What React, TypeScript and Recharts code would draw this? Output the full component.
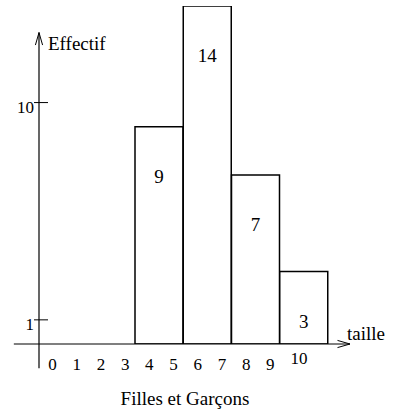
import { BarChart, Bar, XAxis, YAxis, ReferenceLine, LabelList } from "recharts";

const classes = ["[3;5[", "[5;7[", "[7;9[", "[9;10]"];
const bornesInf = [3, 5, 7, 9];
const effectifs = [9, 14, 7, 3];
const tailleTicks = [0, 1, 2, 3, 4, 5, 6, 7, 8, 9, 10];
const effectifTicks = [1, 10];

const data = classes.map((c, i) => ({
  classe: c,
  borneInf: bornesInf[i],
  effectif: effectifs[i],
}));

const FONT = "'Liberation Serif', 'DejaVu Serif', serif";
// numeric axis used only for the 0..10 tick labels
const tailleDomain: [number, number] = [-0.56, 12.29];

function ArrowLine(props: any) {
  const { x1, y1, x2, y2 } = props;
  const a = Math.atan2(y2 - y1, x2 - x1);
  const len = 13;
  const spread = 0.28;
  const ax = x2 - len * Math.cos(a - spread);
  const ay = y2 - len * Math.sin(a - spread);
  const bx = x2 - len * Math.cos(a + spread);
  const by = y2 - len * Math.sin(a + spread);
  return (
    <g>
      <line x1={x1} y1={y1} x2={x2} y2={y2} stroke="#000" strokeWidth={1.2} />
      <polyline
        points={`${ax},${ay} ${x2},${y2} ${bx},${by}`}
        fill="none"
        stroke="#000"
        strokeWidth={1}
      />
    </g>
  );
}

function XTick({ x, y, payload }: any) {
  const last = payload.value === 10;
  return (
    <text
      x={x + (last ? 4.5 : 0)}
      y={y + (last ? -18.5 : -12.5)}
      textAnchor="middle"
      fontFamily={FONT}
      fontSize={17}
      fill="#000"
    >
      {payload.value}
    </text>
  );
}

function YTick({ x, y, payload }: any) {
  return (
    <g>
      <line x1={x + 3} x2={x + 17} y1={y} y2={y} stroke="#000" strokeWidth={1} />
      <text
        x={x + 3}
        y={y + 10}
        textAnchor="end"
        fontFamily={FONT}
        fontSize={17}
        fill="#000"
      >
        {payload.value}
      </text>
    </g>
  );
}

export default function App() {
  return (
    <div style={{ position: "absolute", left: 0, top: 0, width: 394, height: 420, background: "#fff" }}>
      <BarChart
        width={394}
        height={420}
        data={data}
        margin={{ top: 6, right: 44, bottom: 0, left: 0 }}
        barCategoryGap={0}
        barGap={0}
      >
        <XAxis
          xAxisId="t"
          dataKey="borneInf"
          type="number"
          scale="linear"
          domain={tailleDomain}
          ticks={tailleTicks}
          interval={0}
          axisLine={false}
          tickLine={false}
          height={76}
          tick={<XTick />}
          allowDataOverflow
        />
        <XAxis xAxisId="cls" dataKey="classe" hide padding={{ left: 96, right: 22 }} />
        <YAxis
          domain={[0, 14]}
          ticks={effectifTicks}
          width={39}
          axisLine={false}
          tickLine={false}
          tick={<YTick />}
          allowDataOverflow
        />
        <Bar
          xAxisId="cls"
          dataKey="effectif"
          fill="#fff"
          stroke="#000"
          strokeWidth={1.5}
          isAnimationActive={false}
        >
          <LabelList
            dataKey="effectif"
            position="insideTop"
            offset={43}
            fill="#000"
            fontFamily={FONT}
            fontSize={19}
          />
        </Bar>
        <ReferenceLine
          xAxisId="t"
          segment={[
            { x: tailleDomain[0], y: -1 },
            { x: tailleDomain[0], y: 12.9 },
          ]}
          ifOverflow="visible"
          shape={<ArrowLine />}
        />
        <ReferenceLine
          xAxisId="t"
          segment={[
            { x: -1.6, y: 0 },
            { x: tailleDomain[1], y: 0 },
          ]}
          ifOverflow="visible"
          shape={<ArrowLine />}
        />
      </BarChart>
      <svg
        width={394}
        height={420}
        style={{ position: "absolute", left: 0, top: 0, pointerEvents: "none" }}
      >
        <text x={48} y={50} fontFamily={FONT} fontSize={19} fill="#000">
          Effectif
        </text>
        <text x={347} y={340} fontFamily={FONT} fontSize={19} fill="#000">
          taille
        </text>
        <text x={185} y={405} textAnchor="middle" fontFamily={FONT} fontSize={19} fill="#000">
          Filles et Garçons
        </text>
      </svg>
    </div>
  );
}
